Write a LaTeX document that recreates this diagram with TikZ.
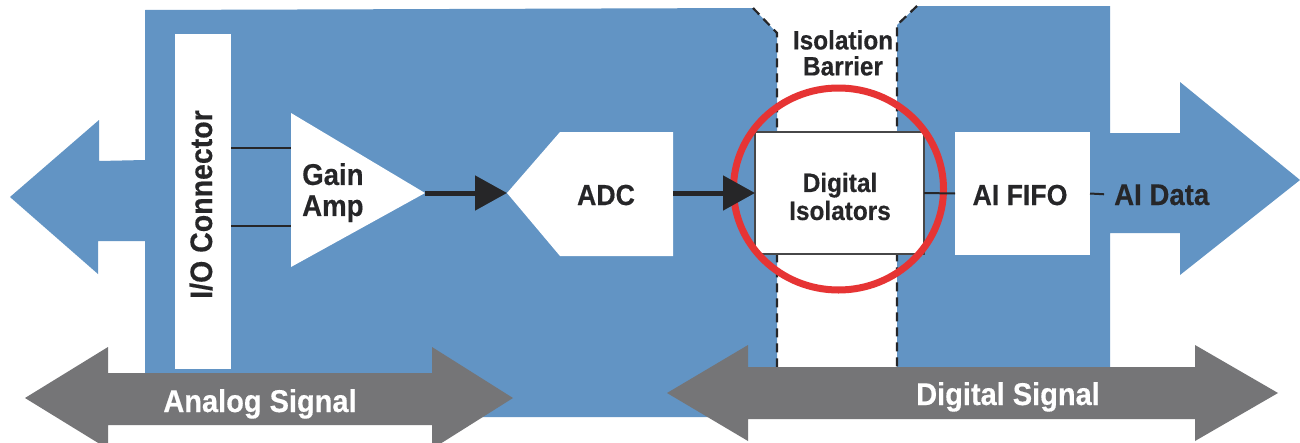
\documentclass[tikz,border=0pt]{standalone}
\usepackage{fontspec}
\setmainfont{Liberation Sans}[FakeStretch=0.92, BoldFeatures={FakeBold=0.4}]
\usetikzlibrary{arrows.meta}
\definecolor{panelblue}{RGB}{98,148,196}
\definecolor{busgray}{RGB}{117,117,119}
\definecolor{ringred}{RGB}{230,52,52}
\definecolor{ink}{RGB}{38,38,40}
\begin{document}
\begin{tikzpicture}[x=1pt,y=-1pt,
  whitebox/.style={fill=white, inner sep=0pt, outer sep=0pt},
  blocktext/.style={text=ink, font=\fontsize{29}{31}\selectfont\bfseries, inner sep=0pt},
  bustext/.style={text=white, font=\fontsize{31.5}{35}\selectfont\bfseries, inner sep=0pt},
  wire/.style={draw=ink, line width=2pt},
  flow/.style={draw=ink, line width=5pt, -{Triangle[length=32pt,width=34pt]}},
  barrier/.style={draw=ink, line width=2.2pt, dash pattern=on 9pt off 6pt},
]
\fill[white] (0,0) rectangle (1300,442);
\useasboundingbox (0,0) rectangle (1300,442);

% analog side of the board, with the I/O arrow
\fill[panelblue] (10,197) -- (99,120) -- (99,161) -- (145,160) -- (145,10) -- (753,8)
  -- (777,33) -- (777,417) -- (145,417) -- (145,241) -- (98,241) -- (98,274) -- cycle;
% digital side of the board, with the AI Data arrow
\fill[panelblue] (897,25) -- (917,6) -- (1110,6) -- (1110,133) -- (1180,133) -- (1180,82)
  -- (1300,180) -- (1180,275) -- (1180,233) -- (1110,233) -- (1110,367) -- (897,367) -- cycle;

% edges of the isolation barrier
\draw[barrier] (753,8) -- (777,33) -- (777,380);
\draw[barrier] (917,6) -- (897,25) -- (897,380);

% blocks
\node[whitebox, minimum width=56pt, minimum height=335pt] (io) at (203,201.5) {};
\coordinate (ampA) at (291,148);
\coordinate (ampB) at (291,226);
\coordinate (ampOut) at (425,193);
\fill[white] (291,113) -- (ampOut) -- (291,267) -- cycle;
\coordinate (adcIn) at (507,193);
\coordinate (adcOut) at (673,193);
\fill[white] (adcIn) -- (560,132) -- (673,132) -- (673,256) -- (560,256) -- cycle;
\node[whitebox, draw=ink!85, line width=2.2pt, minimum width=169pt, minimum height=122pt] (iso) at (839.5,193) {};
\node[whitebox, minimum width=135pt, minimum height=123pt] (fifo) at (1022.5,193.5) {};

% signal buses
\fill[busgray] (25,398) -- (108,347) -- (108,373) -- (432,373) -- (432,347) -- (513,398)
  -- (432,449) -- (432,425) -- (108,425) -- (108,449) -- cycle;
\fill[busgray] (667,393) -- (748,345) -- (748,367) -- (1195,367) -- (1195,345) -- (1278,393)
  -- (1195,441) -- (1195,419) -- (748,419) -- (748,441) -- cycle;

% highlight ring
\draw[ringred, line width=7pt] (838.5,189) ellipse [x radius=105, y radius=101];

% labels
\node[blocktext, rotate=90, anchor=base, font=\fontsize{31}{34}\selectfont\bfseries] (iolabel) at (212,204.5) {I/O Connector};
\node[blocktext, anchor=north west, align=left, font=\fontsize{30}{31}\selectfont\bfseries] (amplabel) at (302,163) {Gain\\Amp};
\node[blocktext, anchor=base] (adclabel) at (606,205) {ADC};
\node[blocktext, align=center, font=\fontsize{26.5}{28}\selectfont\bfseries] (isolabel) at (840,196.5) {Digital\\Isolators};
\node[blocktext, anchor=north, align=center, font=\fontsize{26.5}{26}\selectfont\bfseries] (barrierlabel) at (843,30) {Isolation\\Barrier};
\node[blocktext, anchor=base] (fifolabel) at (1020,205) {AI FIFO};
\node[blocktext, anchor=base west, font=\fontsize{30}{31}\selectfont\bfseries] (data) at (1114,205) {AI Data};
\node[bustext, anchor=base] (analog) at (260,412) {Analog Signal};
\node[bustext, anchor=base] (digital) at (1008,405) {Digital Signal};

% connections
\draw[wire] (io.east |- ampA) -- (ampA);
\draw[wire] (io.east |- ampB) -- (ampB);
\draw[flow] (ampOut) -- (adcIn);
\draw[flow] (adcOut) -- (iso.west);
\draw[wire] (iso.east) -- (fifo.west);
\draw[wire, shorten >=10pt] (fifo.east) -- (data.west);
\end{tikzpicture}
\end{document}
